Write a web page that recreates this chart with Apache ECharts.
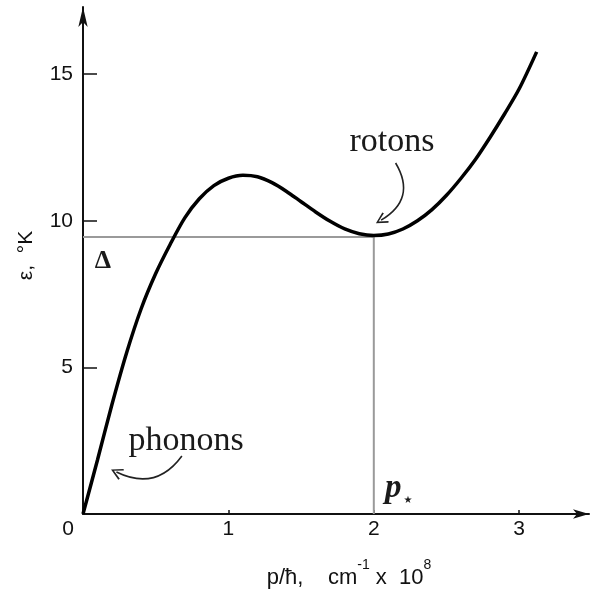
<!DOCTYPE html>
<html>
<head>
<meta charset="utf-8">
<script src="https://cdn.jsdelivr.net/npm/echarts@6/dist/echarts.min.js"></script>
<style>
html, body { margin: 0; padding: 0; background: #fff; }
#chart { width: 592px; height: 596px; }
</style>
</head>
<body>
<div id="chart"></div>
<script>
// dispersion curve
const momentum = [0, 0.1, 0.2, 0.3, 0.4, 0.5, 0.6, 0.7, 0.8, 0.9, 1.0, 1.1, 1.2, 1.3, 1.4, 1.5, 1.6,
	1.7, 1.8, 1.9, 2.0, 2.1, 2.2, 2.3, 2.4, 2.5, 2.6, 2.7, 2.8, 2.9, 3.0, 3.12];
const energy = [0, 1.85, 3.75, 5.5, 7.0, 8.2, 9.2, 10.1, 10.75, 11.2, 11.45, 11.55, 11.5, 11.3, 11.0, 10.65, 10.3,
	9.98, 9.72, 9.56, 9.5, 9.55, 9.72, 10.0, 10.38, 10.87, 11.45, 12.1, 12.85, 13.65, 14.5, 15.76];

const xTicks = [0, 1, 2, 3];
const yTicks = [0, 5, 10, 15];

// roton gap and the momentum of the minimum
const rotonGap = 9.45;
const rotonMomentum = 2.0;

// annotation arrows (start, end) in data units
const phononArrow = [[0.68, 1.98], [0.23, 1.43]];
const rotonArrow = [[2.15, 11.97], [2.05, 10.02]];

const ink = "#111";
const chevron = "path://M5,0 L10,9 L8.8,9.8 L5,2.6 L1.2,9.8 L0,9 Z";

const chart = echarts.init(document.getElementById("chart"));

const option = {
	animation: false,
	grid: { left: 83, right: 3, top: 7, bottom: 82 },
	xAxis: {
		type: "value",
		min: 0,
		max: 3.48,
		axisLine: {
			onZero: false,
			symbol: ["none", "arrow"],
			symbolSize: [7, 16],
			lineStyle: { color: ink, width: 2 },
		},
		axisTick: { inside: true, length: 4, customValues: xTicks, lineStyle: { color: ink, width: 1.5 } },
		axisLabel: {
			customValues: xTicks,
			margin: 5,
			fontSize: 21,
			fontFamily: "Liberation Sans",
			color: ink,
			formatter: (v) => (v === 0 ? "{o|0}" : String(v)),
			rich: { o: { padding: [0, 30, 0, 0], fontSize: 21, fontFamily: "Liberation Sans", color: ink } },
		},
		splitLine: { show: false },
		name: "{m|p/ħ,    cm}{s|-1}{m| x  10}{s|8}",
		nameLocation: "middle",
		nameGap: 44,
		nameTextStyle: {
			padding: [0, 0, 0, 26],
			rich: {
				m: { fontSize: 22, fontFamily: "Liberation Sans", color: ink, lineHeight: 40 },
				s: { fontSize: 14, fontFamily: "Liberation Sans", color: ink, verticalAlign: "top", lineHeight: 40 },
			},
		},
	},
	yAxis: {
		type: "value",
		min: 0,
		max: 17.29,
		axisLine: {
			symbol: ["none", "arrow"],
			symbolSize: [7, 20],
			lineStyle: { color: ink, width: 2 },
		},
		axisTick: { inside: true, length: 14, customValues: yTicks, lineStyle: { color: ink, width: 1.5 } },
		axisLabel: {
			customValues: yTicks,
			margin: 10,
			fontSize: 21,
			fontFamily: "Liberation Sans",
			color: ink,
			formatter: (v) => (v === 0 ? "" : String(v)),
		},
		splitLine: { show: false },
		name: "ε,  °K",
		nameLocation: "middle",
		nameRotate: 90,
		nameGap: 46,
		nameTextStyle: { fontSize: 21, fontFamily: "Liberation Sans", color: ink, padding: [0, 0, 0, 10] },
	},
	series: [
		{
			name: "gap",
			type: "line",
			data: [[0, rotonGap], [rotonMomentum, rotonGap], [rotonMomentum, 0]],
			showSymbol: false,
			lineStyle: { color: "#9a9a9a", width: 2 },
			z: 1,
		},
		{
			name: "dispersion",
			type: "line",
			data: momentum.map((p, i) => [p, energy[i]]),
			smooth: 0.3,
			showSymbol: false,
			lineStyle: { color: "#000", width: 3.5 },
			z: 3,
		},
		{
			name: "arrows",
			type: "lines",
			coordinateSystem: "cartesian2d",
			symbol: ["none", chevron],
			symbolSize: 12,
			lineStyle: { color: "#222", width: 1.6, opacity: 1 },
			data: [
				{ coords: phononArrow, lineStyle: { curveness: 0.42 } },
				{ coords: rotonArrow, lineStyle: { curveness: 0.5 } },
			],
			z: 4,
		},
	],
	graphic: [
		{ type: "text", x: 186, y: 441, style: { text: "phonons", font: "34px 'Liberation Serif'", fill: "#1a1a1a", textAlign: "center", textVerticalAlign: "middle" } },
		{ type: "text", x: 392, y: 142, style: { text: "rotons", font: "34px 'Liberation Serif'", fill: "#1a1a1a", textAlign: "center", textVerticalAlign: "middle" } },
		{ type: "text", x: 103, y: 261, style: { text: "Δ", font: "bold 26px 'Liberation Serif'", fill: "#1a1a1a", textAlign: "center", textVerticalAlign: "middle" } },
		{ type: "text", x: 385, y: 488, style: { text: "p", font: "italic bold 33px 'Liberation Serif'", fill: "#1a1a1a", textAlign: "left", textVerticalAlign: "middle" } },
		{ type: "text", x: 408, y: 500, style: { text: "★", font: "10px 'DejaVu Sans'", fill: "#1a1a1a", textAlign: "center", textVerticalAlign: "middle" } },
	],
};

chart.setOption(option);
</script>
</body>
</html>
